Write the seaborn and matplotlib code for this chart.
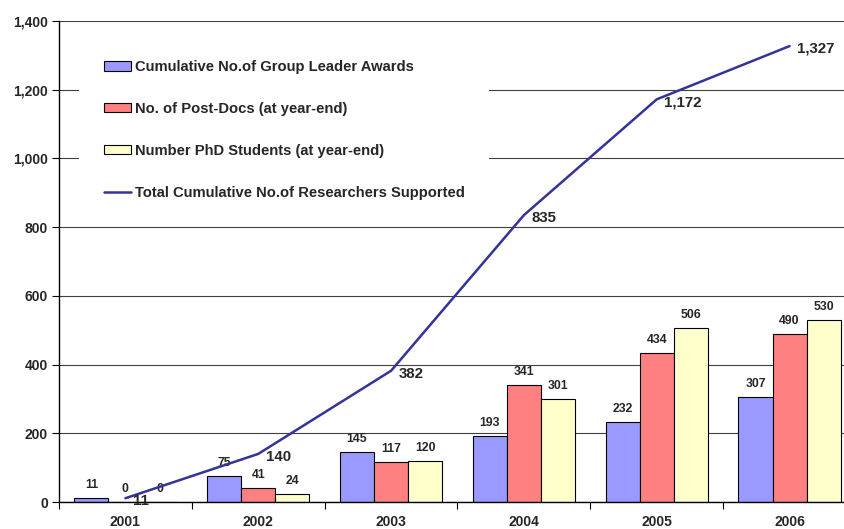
import numpy as np
import pandas as pd
import seaborn as sns
import matplotlib.pyplot as plt
from matplotlib.ticker import FuncFormatter, FixedLocator

years = ['2001', '2002', '2003', '2004', '2005', '2006']
group_leaders = [11, 75, 145, 193, 232, 307]
post_docs = [0, 41, 117, 341, 434, 490]
phd_students = [0, 24, 120, 301, 506, 530]
total_researchers = [11, 140, 382, 835, 1172, 1327]

series_names = ['Cumulative No.of Group Leader Awards',
                'No. of Post-Docs (at year-end)',
                'Number PhD Students (at year-end)']
line_name = 'Total Cumulative No.of Researchers Supported'
bar_colors = ['#9999FF', '#FF8080', '#FFFFCC']
line_color = '#333399'

df = pd.DataFrame({
    'year': years * 3,
    'series': [s for s in series_names for _ in years],
    'value': group_leaders + post_docs + phd_students,
})

sns.set_style('white')
plt.rcParams['font.family'] = ['Liberation Sans', 'DejaVu Sans']
plt.rcParams['font.weight'] = 'bold'

fig = plt.figure(figsize=(8.44, 5.29), dpi=100)
# plot area runs a little past the right edge of the picture
ax = fig.add_axes([59 / 844, 27 / 529, 797 / 844, 481 / 529])

sns.barplot(data=df, x='year', y='value', hue='series', palette=bar_colors,
            width=0.77, edgecolor='black', linewidth=0.8, saturation=1,
            ax=ax, zorder=2)

for cont in ax.containers:
    ax.bar_label(cont, labels=[f'{int(b.get_height())}' for b in cont],
                 padding=5, fontsize=8.8, fontweight='bold')

xpos = np.arange(len(years))
sns.lineplot(x=xpos, y=total_researchers, color=line_color, linewidth=1.8,
             label=line_name, ax=ax, zorder=3)
for x, v in zip(xpos, total_researchers):
    ax.annotate(f'{v:,}', (x, v), xytext=(5.5, -2), textcoords='offset points',
                ha='left', va='center', fontsize=10.8, fontweight='bold')

ax.set_xlim(-0.5, 5.5)
ax.set_ylim(0, 1400)
ax.set_yticks(range(0, 1401, 200))
ax.yaxis.set_major_formatter(FuncFormatter(lambda v, p: f'{int(v):,}'))
ax.yaxis.grid(True, color='#404040', linewidth=0.8, zorder=0)
ax.set_axisbelow(True)

ax.xaxis.set_major_locator(FixedLocator(np.arange(-0.5, 6, 1)))
ax.xaxis.set_minor_locator(FixedLocator(xpos))
ax.set_xticklabels([''] * 7)
ax.set_xticklabels(years, minor=True)
ax.tick_params(axis='x', which='major', direction='out', length=5, width=0.8,
               bottom=True, color='black')
ax.tick_params(axis='x', which='minor', length=0, pad=9, labelsize=10)
ax.tick_params(axis='y', direction='out', length=5, width=0.8, left=True,
               labelsize=10, pad=3, color='black')
ax.set_xlabel('')
ax.set_ylabel('')

for s in ['top', 'right']:
    ax.spines[s].set_visible(False)
for s in ['left', 'bottom']:
    ax.spines[s].set_color('black')
    ax.spines[s].set_linewidth(1.0)

handles, labels = ax.get_legend_handles_labels()
leg = ax.legend(handles, labels, loc='upper left',
                bbox_to_anchor=((79 - 59) / 797, (502 - 35) / 481),
                frameon=True, facecolor='white', edgecolor='none', framealpha=1,
                borderaxespad=0, borderpad=1.7, fontsize=10.6, labelspacing=1.9,
                handlelength=1.8, handleheight=0.6, handletextpad=0.27)
for t in leg.get_texts():
    t.set_fontweight('bold')

fig.savefig('out.png', dpi=100)
